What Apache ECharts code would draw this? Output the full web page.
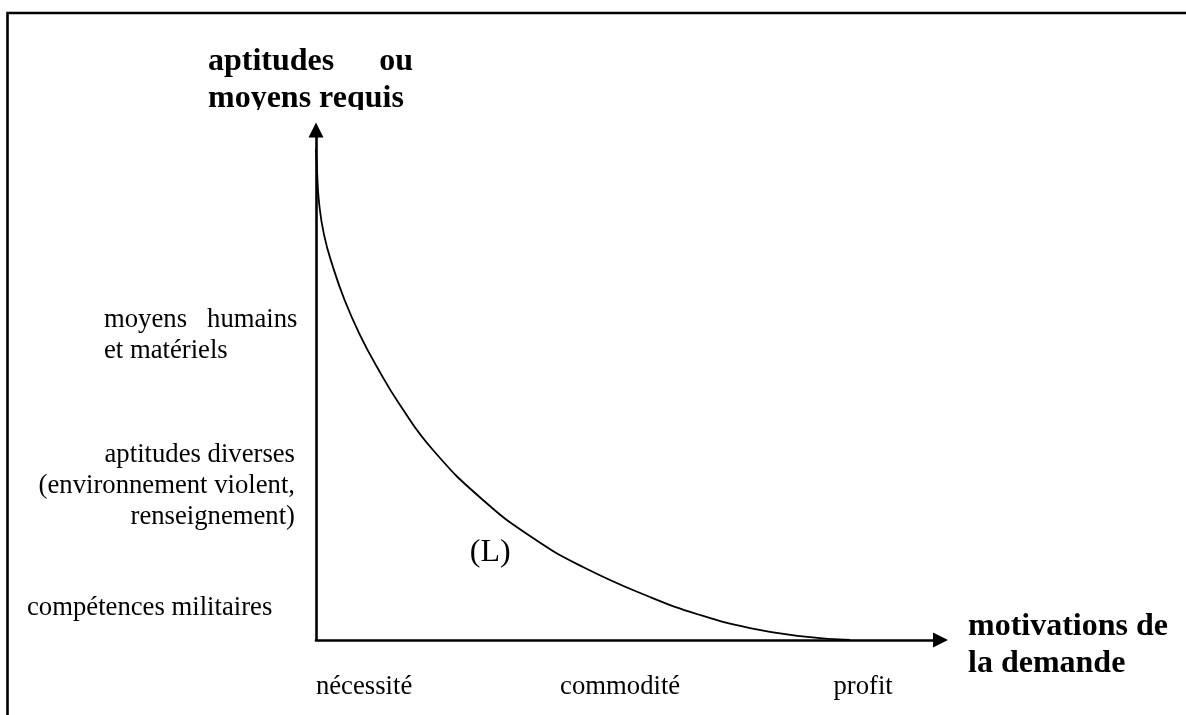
<!DOCTYPE html>
<html><head><meta charset="utf-8">
<script src="https://cdn.jsdelivr.net/npm/echarts@6/dist/echarts.min.js"></script>
<style>html,body{margin:0;padding:0;background:#fff}#c{width:1186px;height:715px}</style>
</head><body><div id="c"></div>
<script>
// ---- data ----
const curveX = [0, 0.16, 0.48, 1.28, 2.72, 4.64, 7.05, 9.77, 13.45, 18.73, 26.74, 34.75, 42.75, 53.48, 61.49, 69.5, 77.5, 85.51];
const curveY = [96.27, 92.16, 85.88, 79.49, 73.14, 66.47, 59.8, 53.53, 46.08, 37.25, 27.45, 20.0, 14.31, 8.43, 4.9, 2.35, 0.78, 0];
const xTickLabels = ['nécessité', 'commodité', 'profit'];
const xTickValues = [7.7, 48.7, 87.6];
const yTickLabels = ['moyens   humains\net matériels', 'aptitudes diverses\n(environnement violent,\nrenseignement)', 'compétences militaires'];
const yTickValues = [59.8, 30.2, 6.3];
const yAxisTitle = ['aptitudes', 'ou', 'moyens requis'];
const xAxisTitle = ['motivations de', 'la demande'];
const curveName = '(L)';
const curveLabelAt = [27.9, 17.1];

const FONT = '"Liberation Serif", "Times New Roman", serif';
const chart = echarts.init(document.getElementById('c'), null, {renderer: 'canvas'});

const axisCommon = {
  type: 'value', min: 0, max: 100,
  axisLine: {show: true, onZero: false, lineStyle: {color: '#000', width: 2.6},
             symbol: ['none', 'triangle'], symbolSize: [15, 15]},
  axisTick: {show: false}, axisLabel: {show: false}, splitLine: {show: false}
};

chart.setOption({
  animation: false,
  backgroundColor: '#fff',
  grid: {left: 316, right: 245.5, top: 130, bottom: 75, containLabel: false},
  xAxis: Object.assign({}, axisCommon),
  yAxis: Object.assign({}, axisCommon),
  series: [{
    type: 'line', name: curveName,
    data: curveX.map((x, i) => [x, curveY[i]]),
    showSymbol: false, smooth: 0.5, clip: false,
    lineStyle: {color: '#000', width: 1.8}
  }]
});

function px(x, y) { return chart.convertToPixel({gridIndex: 0}, [x, y]); }
function txt(text, x, y, opts) {
  return {type: 'text', z: 100, style: Object.assign({
    text: text, x: x, y: y, fill: '#000', fontFamily: FONT, fontSize: 26.7,
    align: 'left', verticalAlign: 'middle', lineHeight: 31
  }, opts || {})};
}

const g = [];
// page border (top + left)
g.push({type: 'polyline', z: 100, shape: {points: [[7.5, 715], [7.5, 13], [1186, 13]]},
        style: {stroke: '#000', lineWidth: 2.6, fill: null}});

// y level labels
const yAlign = [{x: 104, align: 'left'}, {x: 295, align: 'right'}, {x: 27, align: 'left'}];
yTickLabels.forEach((t, i) => {
  const p = px(0, yTickValues[i]);
  g.push(txt(t, yAlign[i].x, p[1], {align: yAlign[i].align}));
});
// x level labels
xTickLabels.forEach((t, i) => {
  const p = px(xTickValues[i], 0);
  g.push(txt(t, p[0], p[1] + 47, {align: 'center'}));
});
// y axis title (bold), bottom line clipped in reference
g.push(txt(yAxisTitle[0], 208, 62, {fontSize: 32, fontWeight: 'bold'}));
g.push(txt(yAxisTitle[1], 413, 62, {fontSize: 32, fontWeight: 'bold', align: 'right'}));
g.push(txt(yAxisTitle[2], 208, 99, {fontSize: 32, fontWeight: 'bold'}));
g.push({type: 'rect', z: 101, shape: {x: 200, y: 110, width: 225, height: 10}, style: {fill: '#fff'}});
// x axis title
g.push(txt(xAxisTitle.join('\n'), 968, 645, {fontSize: 32, fontWeight: 'bold', lineHeight: 37}));
// curve label
const lp = px(curveLabelAt[0], curveLabelAt[1]);
g.push(txt(curveName, lp[0], lp[1], {fontSize: 32, align: 'center'}));

chart.setOption({graphic: g});
</script></body></html>
